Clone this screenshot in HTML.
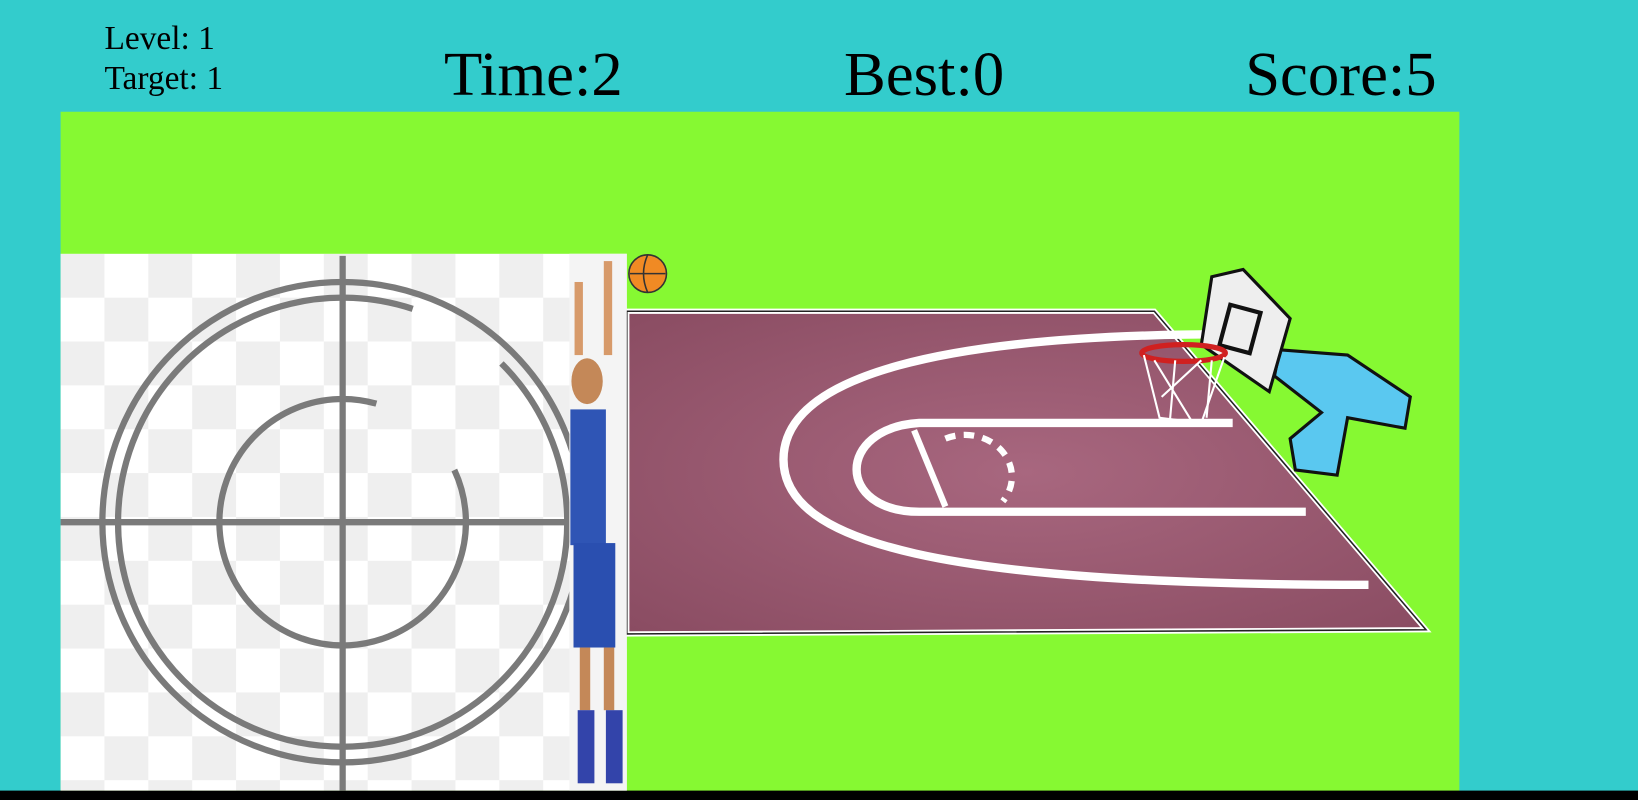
<!DOCTYPE html>
<html><head><meta charset="utf-8"><style>
html,body{margin:0;padding:0;width:1638px;height:800px;overflow:hidden;background:#33CCCC}
svg{display:block}
text{font-family:"Liberation Serif",serif;fill:#000}
</style></head><body>
<svg width="1638" height="800" viewBox="0 0 1568 766" preserveAspectRatio="none">
<defs>
<pattern id="chk" x="58" y="243" width="84" height="84" patternUnits="userSpaceOnUse">
<rect width="84" height="84" fill="#fff"/>
<rect width="42" height="42" fill="#efefef"/>
<rect x="42" y="42" width="42" height="42" fill="#efefef"/>
</pattern>
<radialGradient id="court" cx="0.5" cy="0.5" r="0.7">
<stop offset="0" stop-color="#a8677f"/><stop offset="1" stop-color="#8a4c62"/>
</radialGradient>
</defs>
<rect width="1568" height="766" fill="#33CCCC"/>
<text x="100" y="47" font-size="32">Level: 1</text>
<text x="100" y="85" font-size="32">Target: 1</text>
<text x="425" y="91" font-size="60">Time:2</text>
<text x="808" y="91" font-size="60">Best:0</text>
<text x="1192" y="91" font-size="60">Score:5</text>
<rect x="58" y="107" width="1339" height="651" fill="#86F932"/>
<rect x="0" y="757" width="1568" height="9" fill="#000"/>
<g>
<rect x="58" y="243" width="542" height="514" fill="url(#chk)"/>
<g fill="none" stroke="#7a7a7a" stroke-width="6">
<circle cx="328" cy="500" r="230"/>
<circle cx="328" cy="500" r="215" stroke-dasharray="1250 101" transform="rotate(-45 328 500)"/>
<circle cx="328" cy="500" r="118" stroke-dasharray="640 101" transform="rotate(-25 328 500)"/>
<line x1="328" y1="245" x2="328" y2="757"/>
<line x1="58" y1="500" x2="545" y2="500"/>
</g>
</g>
<g>
<polygon points="600,298 1105,298 1365,603 600,607" fill="url(#court)" stroke="#fff" stroke-width="5"/>
<polygon points="600,298 1105,298 1365,603 600,607" fill="none" stroke="#222" stroke-width="1.5"/>
<path d="M 1180 320 C 900 320 750 360 750 440 C 750 520 900 560 1310 560" fill="none" stroke="#fff" stroke-width="8"/>
<path d="M 1180 405 L 880 405 C 800 410 800 490 880 490 L 1250 490" fill="none" stroke="#fff" stroke-width="8"/>
<line x1="875" y1="412" x2="905" y2="485" stroke="#fff" stroke-width="6"/>
<path d="M 905 420 A 45 40 0 0 1 960 480" fill="none" stroke="#fff" stroke-width="6" stroke-dasharray="10 8"/>
</g>
<g>
<polygon points="1225,335 1290,340 1350,380 1345,410 1290,400 1280,455 1240,450 1235,420 1265,395 1220,360" fill="#5ac8f0" stroke="#111" stroke-width="3"/>
<polygon points="1160,265 1190,258 1235,305 1215,375 1150,330" fill="#eee" stroke="#111" stroke-width="3"/>
<rect x="1172" y="295" width="30" height="40" fill="none" stroke="#111" stroke-width="4" transform="rotate(15 1187 315)"/>
<ellipse cx="1133" cy="338" rx="40" ry="8" fill="none" stroke="#d02020" stroke-width="5"/>
<path d="M 1095 340 L 1110 400 L 1150 405 L 1172 342" fill="none" stroke="#fff" stroke-width="2"/>
<path d="M 1105 345 L 1140 402 M 1125 345 L 1120 402 M 1150 345 L 1112 380 M 1160 345 L 1155 400" stroke="#fff" stroke-width="2"/>
</g>
<g>
<rect x="545" y="243" width="55" height="514" fill="#f4f4f4"/>
<rect x="578" y="250" width="8" height="90" fill="#d79a6a"/>
<rect x="550" y="270" width="8" height="70" fill="#d79a6a"/>
<ellipse cx="562" cy="365" rx="15" ry="22" fill="#c48858"/>
<rect x="546" y="392" width="34" height="130" fill="#2f55b5"/>
<rect x="549" y="520" width="40" height="100" fill="#2a4fb0"/>
<rect x="555" y="620" width="10" height="60" fill="#c48858"/>
<rect x="578" y="620" width="10" height="60" fill="#c48858"/>
<rect x="553" y="680" width="16" height="70" fill="#3344aa"/>
<rect x="580" y="680" width="16" height="70" fill="#3344aa"/>
</g>
<g>
<circle cx="620" cy="262" r="18" fill="#f08a24" stroke="#333" stroke-width="1.5"/>
<path d="M 603 262 L 637 262 M 620 244 Q 612 262 620 280" stroke="#333" stroke-width="1.5" fill="none"/>
</g>
</svg>
</body></html>
